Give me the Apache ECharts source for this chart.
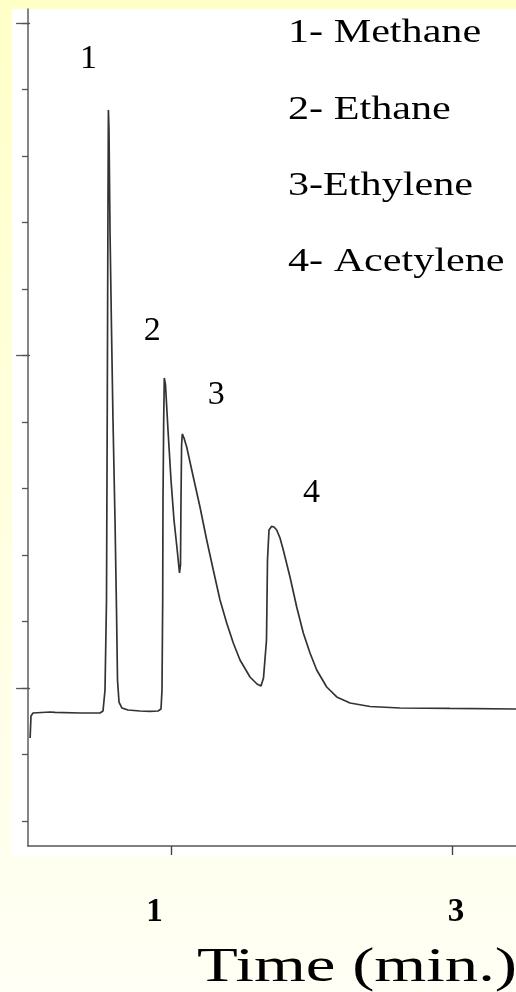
<!DOCTYPE html>
<html>
<head>
<meta charset="utf-8">
<script src="https://cdn.jsdelivr.net/npm/echarts@6/dist/echarts.min.js"></script>
<style>
  html, body { margin: 0; padding: 0; }
  #chart { width: 516px; height: 992px; }
</style>
</head>
<body>
<div id="chart"></div>
<script>
// Retention time (min) and detector response of the chromatogram trace
const timeMin = [
  0.000, 0.0063, 0.0205, 0.1413, 0.1555, 0.1768, 0.3543, 0.4963, 0.5176, 0.5318,
  0.5424, 0.5481, 0.5530, 0.5559, 0.5601, 0.5672, 0.5779, 0.5885, 0.6028, 0.6134,
  0.6205, 0.6312, 0.6525, 0.6951, 0.7803, 0.8513, 0.9081, 0.9294, 0.9364, 0.9414,
  0.9435, 0.9485, 0.9528, 0.9613, 0.9790, 1.0003, 1.0216, 1.0429, 1.0607, 1.0678,
  1.0713, 1.0756, 1.0806, 1.0926, 1.1118, 1.1352, 1.1587, 1.2062, 1.2538, 1.3007,
  1.3483, 1.3958, 1.4427, 1.4903, 1.5613, 1.6110, 1.6394, 1.6500, 1.6571, 1.6642,
  1.6713, 1.6784, 1.6855, 1.6962, 1.7139, 1.7317, 1.7509, 1.7743, 1.7977, 1.8453,
  1.8929, 1.9397, 1.9873, 2.0349, 2.1059, 2.1769, 2.2713, 2.4133, 2.6264, 2.9814,
  3.4500
];
const response = [
  1.248, 1.579, 1.624, 1.639, 1.647, 1.632, 1.624, 1.624, 1.654, 1.970,
  3.323, 6.331, 9.338, 10.692, 10.391, 8.895, 7.391, 6.030, 4.526, 3.173,
  2.120, 1.789, 1.699, 1.669, 1.654, 1.647, 1.654, 1.684, 1.970, 3.323,
  4.827, 6.030, 6.662, 6.556, 5.880, 5.128, 4.526, 4.105, 3.729, 3.850,
  4.827, 5.654, 5.820, 5.759, 5.624, 5.398, 5.173, 4.722, 4.226, 3.774,
  3.323, 2.977, 2.677, 2.421, 2.165, 2.060, 2.030, 2.060, 2.150, 2.135,
  2.180, 2.722, 3.925, 4.376, 4.429, 4.421, 4.376, 4.256, 4.075, 3.669,
  3.218, 2.827, 2.526, 2.271, 2.015, 1.865, 1.774, 1.722, 1.699, 1.692,
  1.684
];

// Peak numbers and the compounds they stand for
const peakNumbers = ['1', '2', '3', '4'];
const compoundNames = ['1- Methane', '2- Ethane', '3-Ethylene', '4- Acetylene'];

// Axis ticks
const timeTicks = [1, 3];
const responseTicks = [0, 1, 2, 3, 4, 5, 6, 7, 8, 9, 10, 11, 12];
const responseMajorTicks = [2, 7, 12];

const FONT = 'Liberation Serif';

const trace = timeMin.map((t, i) => [t, response[i]]);

// Local maxima above the tailing region are the four labelled peaks
const peaks = [];
for (let i = 1; i < response.length - 1; i++) {
  if (response[i] > 4 && response[i] >= response[i - 1] && response[i] > response[i + 1]) {
    peaks.push(i);
  }
}
const peakLabelOffsets = [[-20, -51], [-12, -47], [34, -39], [40, -33]];
const peakMarks = peaks.map((idx, k) => ({
  name: peakNumbers[k],
  coord: [timeMin[idx], response[idx]],
  label: { offset: peakLabelOffsets[k] }
}));

const chart = echarts.init(document.getElementById('chart'), null, { renderer: 'canvas' });

const legendTexts = compoundNames.map((name, k) => ({
  type: 'text',
  x: 288,
  y: [33, 110, 186, 262][k],
  scaleX: 1.24,
  style: {
    text: name,
    fontFamily: FONT,
    fontSize: 34,
    fill: '#000',
    align: 'left',
    verticalAlign: 'middle'
  },
  z: 10
}));

chart.setOption({
  animation: false,
  backgroundColor: {
    type: 'linear', x: 0, y: 0, x2: 0, y2: 1,
    colorStops: [
      { offset: 0, color: '#FFFFC8' },
      { offset: 1, color: '#FFFFF5' }
    ]
  },
  textStyle: { fontFamily: FONT },
  graphic: [
    {
      type: 'rect',
      shape: { x: 12, y: 9, width: 504, height: 848 },
      style: { fill: '#FFFFFF' },
      z: -100,
      silent: true
    },
    ...legendTexts,
    {
      type: 'text',
      x: 197,
      y: 968,
      scaleX: 1.39,
      style: {
        text: 'Time (min.)',
        fontFamily: FONT,
        fontSize: 48,
        fill: '#000',
        align: 'left',
        verticalAlign: 'middle'
      },
      z: 10
    }
  ],
  grid: { left: 28, top: 9, width: 488, height: 837, containLabel: false },
  xAxis: {
    type: 'value',
    min: -0.015,
    max: 3.45,
    splitLine: { show: false },
    axisLine: { show: true, onZero: false, lineStyle: { color: '#555', width: 1.6 } },
    axisTick: {
      show: true, inside: false, length: 9,
      customValues: timeTicks,
      lineStyle: { color: '#444', width: 1.4 }
    },
    axisLabel: {
      show: true,
      customValues: timeTicks,
      margin: 50,
      fontFamily: FONT,
      fontSize: 33,
      fontWeight: 'bold',
      color: '#000',
      // the "1" sits a little left of its tick, the "3" a little right
      formatter: v => (v === 1 ? '1\u2002\u2002' : '\u2009' + '3')
    }
  },
  yAxis: [
    {
      type: 'value',
      min: -0.376,
      max: 12.21,
      splitLine: { show: false },
      axisLine: { show: true, onZero: false, lineStyle: { color: '#666', width: 1.6 } },
      axisTick: {
        show: true, inside: false, length: 6,
        customValues: responseTicks,
        lineStyle: { color: '#555', width: 1.3 }
      },
      axisLabel: { show: false }
    },
    {
      type: 'value',
      position: 'left',
      min: -0.376,
      max: 12.21,
      splitLine: { show: false },
      axisLine: { show: false },
      axisTick: {
        show: true, inside: false, length: 14,
        customValues: responseMajorTicks,
        lineStyle: { color: '#555', width: 1.3 }
      },
      axisLabel: { show: false }
    }
  ],
  series: [
    {
      type: 'line',
      data: trace,
      yAxisIndex: 0,
      showSymbol: false,
      smooth: false,
      lineStyle: { color: '#333333', width: 1.7 },
      markPoint: {
        symbol: 'circle',
        symbolSize: 0,
        silent: true,
        label: {
          show: true,
          position: 'inside',
          formatter: '{b}',
          fontFamily: FONT,
          fontSize: 34,
          color: '#000'
        },
        data: peakMarks
      }
    }
  ]
});
</script>
</body>
</html>
